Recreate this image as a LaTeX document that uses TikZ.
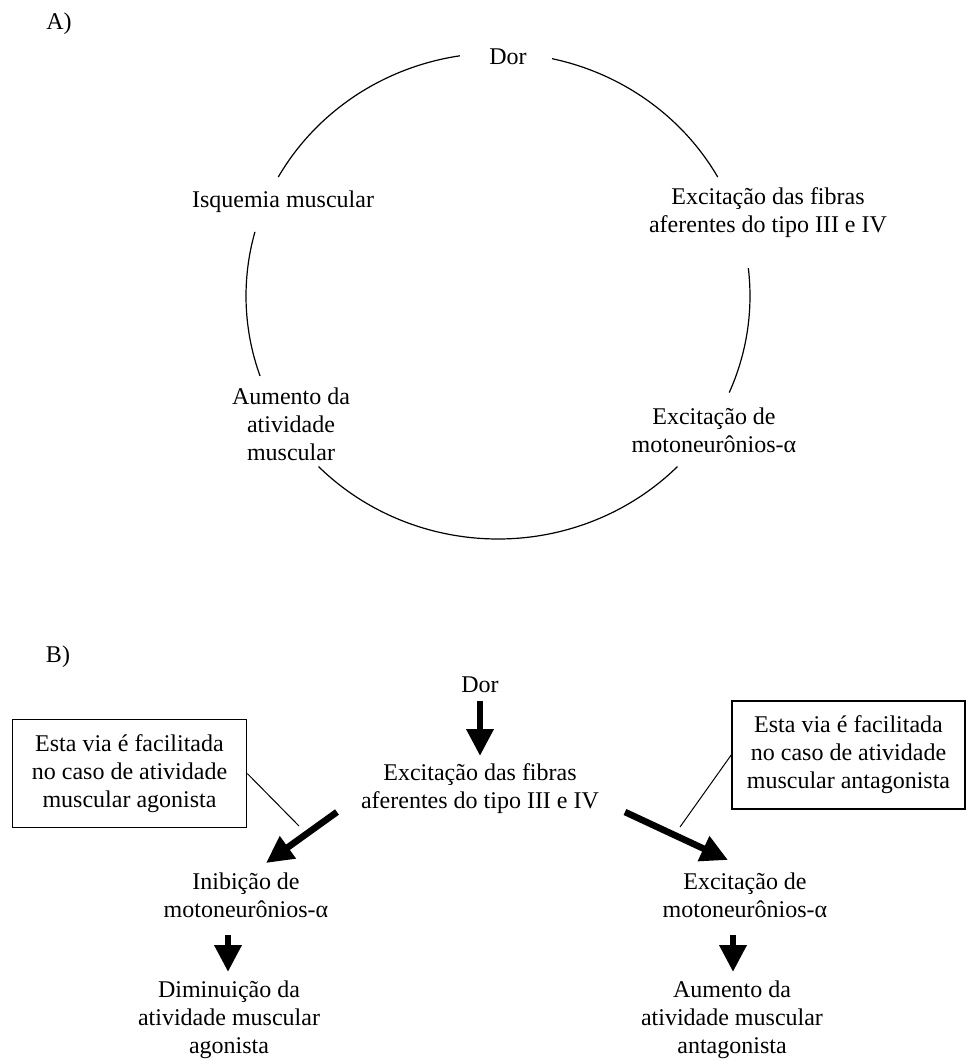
\documentclass[tikz,border=0pt]{standalone}
\usepackage{fontspec}
\setmainfont{Liberation Serif}
\usetikzlibrary{arrows.meta,calc}
\tikzset{
  x=0.5pt,y=0.5pt,
  txt/.style={font=\fontsize{12}{14}\selectfont, align=center, inner sep=0pt},
  notebox/.style={txt, draw, line width=0.8pt, minimum width=117pt, minimum height=54pt},
  arcline/.style={line width=0.6pt},
  thinline/.style={line width=0.5pt},
  bigarrow/.style={line width=3.3pt, -{Triangle[width=13pt,length=13.5pt]}},
}
\begin{document}
\begin{tikzpicture}
\useasboundingbox (0,0) rectangle (966,-1062);
% ---------- A ----------
\node[txt] (labA) at (59,-24) {A)};
\node[txt] (dorA) at (508,-57) {Dor};
\node[txt] (isq) at (283,-202) {Isquemia muscular};
\node[txt] (excA) at (768,-213) {Excitação das fibras\\aferentes do tipo III e IV};
\node[txt] (aumA) at (291,-424) {Aumento da\\atividade\\muscular};
\node[txt] (motA) at (714,-430) {Excitação de\\motoneurônios-α};
\coordinate (C) at (498,-296);
\draw[arcline] ($(C)+(98.7:126pt and 121.5pt)$) arc[start angle=98.7, end angle=150.7, x radius=126pt, y radius=121.5pt];
\draw[arcline] ($(C)+(164.7:126pt and 121.5pt)$) arc[start angle=164.7, end angle=199.2, x radius=126pt, y radius=121.5pt];
\draw[arcline] ($(C)+(224.6:126pt and 121.5pt)$) arc[start angle=224.6, end angle=315.4, x radius=126pt, y radius=121.5pt];
\draw[arcline] ($(C)+(-23.4:126pt and 121.5pt)$) arc[start angle=-23.4, end angle=6.6, x radius=126pt, y radius=121.5pt];
\draw[arcline] ($(C)+(29.3:126pt and 121.5pt)$) arc[start angle=29.3, end angle=77.6, x radius=126pt, y radius=121.5pt];
% ---------- B ----------
\node[txt] (labB) at (58,-657) {B)};
\node[txt] (dorB) at (480,-685) {Dor};
\node[txt] (excB) at (480,-789) {Excitação das fibras\\aferentes do tipo III e IV};
\node[notebox] (boxL) at (129.5,-773.5) {Esta via é facilitada\\no caso de atividade\\muscular agonista};
\node[notebox, minimum width=116.5pt] (boxR) at (848.5,-755) {Esta via é facilitada\\no caso de atividade\\muscular antagonista};
\node[txt] (inib) at (246,-895) {Inibição de\\motoneurônios-α};
\node[txt] (motB) at (745,-895) {Excitação de\\motoneurônios-α};
\node[txt] (dimin) at (229,-1020) {Diminuição da\\atividade muscular\\agonista};
\node[txt] (aumB) at (732,-1020) {Aumento da\\atividade muscular\\antagonista};
\coordinate (pL) at (299,-826);
\coordinate (pR) at (680,-827);
\draw[thinline] (boxL.east) -- (pL);
\draw[thinline] (boxR.west) -- (pR);
\draw[bigarrow] ($(dorB.center)+(0,-16)$) -- ($(excB.center)+(0,33)$);
\draw[bigarrow] ($(excB.center)+(-143,-23)$) -- ($(inib.center)+(20,32)$);
\draw[bigarrow] ($(excB.center)+(145,-23)$) -- ($(motB.center)+(-17,35)$);
\draw[bigarrow] ($(dimin.center)+(-1,85)$) -- ($(dimin.center)+(-1,48)$);
\draw[bigarrow] ($(aumB.center)+(1,85)$) -- ($(aumB.center)+(1,48)$);
\end{tikzpicture}
\end{document}
